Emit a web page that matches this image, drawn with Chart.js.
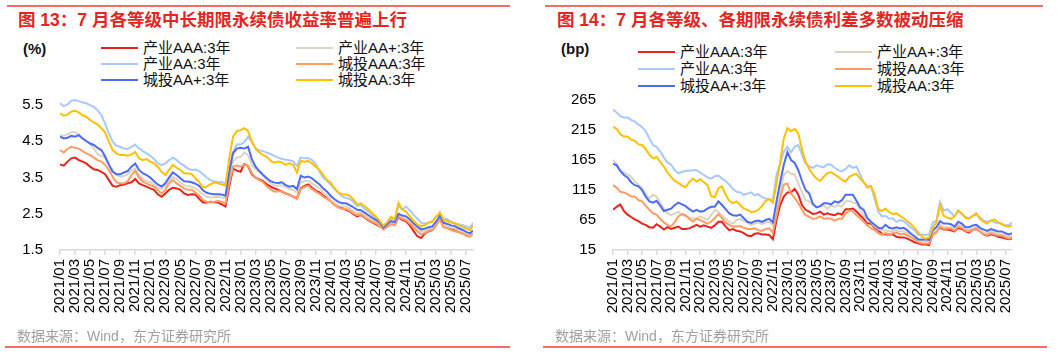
<!DOCTYPE html>
<html>
<head>
<meta charset="utf-8">
<script src="https://cdn.jsdelivr.net/npm/chart.js@4.4.0/dist/chart.umd.min.js"></script>
<style>
body { margin: 0; background: #fff; }
#page { position: relative; width: 1061px; height: 354px; overflow: hidden; font-family: "Liberation Sans", "Noto Sans CJK SC", sans-serif; }
.rule { position: absolute; height: 2px; background: #ef6e68; }
.title { position: absolute; top: 10px; font-size: 17.5px; font-weight: bold; color: #e3261f; line-height: 20px; white-space: nowrap; }
.source { position: absolute; top: 328px; font-size: 14px; color: #a0a0a0; line-height: 17px; white-space: nowrap; }
.unit { position: absolute; top: 41px; font-size: 15px; font-weight: bold; line-height: 16px; color: #111; }
.item { position: absolute; font-size: 15px; line-height: 16px; white-space: nowrap; color: #111; padding-left: 42px; }
.item i { position: absolute; left: 0; top: 7px; width: 37px; height: 2px; }
canvas { position: absolute; top: 80px; }
</style>
</head>
<body>
<div id="page">
  <div class="rule" style="left:7px;width:503px;top:5px"></div>
  <div class="rule" style="left:545px;width:498px;top:5px"></div>
  <div class="title" style="left:18px">图 13：7 月各等级中长期限永续债收益率普遍上行</div>
  <div class="title" style="left:557px">图 14：7 月各等级、各期限永续债利差多数被动压缩</div>
  <div class="unit" style="left:23px">(%)</div>
  <div class="unit" style="left:561px">(bp)</div>
  <div id="legendL"></div>
  <div id="legendR"></div>
  <canvas id="chartL" width="530" height="250" style="left:0"></canvas>
  <canvas id="chartR" width="531" height="250" style="left:530px"></canvas>
  <div class="source" style="left:17px">数据来源：Wind，东方证券研究所</div>
  <div class="source" style="left:555px">数据来源：Wind，东方证券研究所</div>
  <div class="rule" style="left:5px;width:505px;top:346px"></div>
  <div class="rule" style="left:543px;width:504px;top:346px"></div>
</div>
<script>
// semi-monthly observation dates
const dates = [];
for (let y = 2021; y <= 2025; y++) {
  for (let m = 1; m <= 12; m++) {
    if (y === 2025 && m > 7) break;
    const mm = String(m).padStart(2, '0');
    dates.push(y + '/' + mm + '/01', y + '/' + mm + '/16');
  }
}
dates.push('2025/07/28');

const tickLabels = ['2021/01','2021/03','2021/05','2021/07','2021/09','2021/11',
  '2022/01','2022/03','2022/05','2022/07','2022/09','2022/11',
  '2023/01','2023/03','2023/05','2023/07','2023/09','2023/11',
  '2024/01','2024/03','2024/05','2024/07','2024/09','2024/11',
  '2025/01','2025/03','2025/05','2025/07'];

const seriesNames = ['产业AAA:3年', '产业AA+:3年', '产业AA:3年', '城投AAA:3年', '城投AA+:3年', '城投AA:3年'];
const seriesColors = ['#e8231c', '#ddd3c1', '#a8c9ff', '#ff9d63', '#4b6cf6', '#ffc000'];

// left chart: yields (%)
const yieldIndAAA = [3.86,3.83,3.94,4.03,4.05,3.98,3.94,3.89,3.80,3.73,
  3.71,3.66,3.59,3.43,3.27,3.25,3.29,3.31,3.34,3.37,
  3.46,3.34,3.29,3.25,3.20,3.16,3.04,2.97,3.06,3.16,
  3.22,3.20,3.16,3.06,3.02,3.04,3.03,2.91,2.81,2.81,
  2.83,2.82,2.81,2.76,2.70,3.25,3.75,3.69,3.66,3.87,
  3.82,3.59,3.50,3.45,3.40,3.31,3.25,3.20,3.16,3.11,
  3.06,3.03,2.97,2.93,3.20,3.27,3.31,3.22,3.14,3.09,
  3.00,2.93,2.86,2.78,2.70,2.66,2.61,2.57,2.49,2.43,
  2.47,2.39,2.32,2.26,2.21,2.15,2.09,2.16,2.24,2.20,
  2.40,2.33,2.29,2.18,2.02,1.88,1.83,1.95,2.02,2.05,
  2.19,2.36,2.14,2.12,2.07,2.04,2.01,1.97,1.92,1.89,1.98];
const yieldIndAAp = [4.67,4.65,4.69,4.75,4.75,4.69,4.58,4.49,4.44,4.30,
  4.14,4.10,4.05,3.89,3.71,3.57,3.52,3.54,3.59,3.68,
  3.75,3.57,3.46,3.40,3.37,3.31,3.22,3.18,3.28,3.40,
  3.52,3.46,3.37,3.29,3.25,3.25,3.20,3.13,3.04,2.97,
  2.95,2.96,2.97,2.95,2.93,3.48,3.94,4.05,4.07,4.19,
  4.12,3.86,3.73,3.64,3.57,3.43,3.34,3.28,3.28,3.29,
  3.23,3.19,3.15,3.09,3.37,3.40,3.42,3.34,3.27,3.20,
  3.09,3.00,2.88,2.79,2.73,2.70,2.70,2.65,2.57,2.52,
  2.53,2.46,2.40,2.34,2.28,2.21,2.09,2.18,2.26,2.24,
  2.46,2.39,2.37,2.29,2.18,2.09,2.01,2.03,2.08,2.10,
  2.21,2.37,2.18,2.15,2.12,2.10,2.04,2.00,1.95,1.91,1.99];
const yieldIndAA = [5.55,5.47,5.52,5.62,5.64,5.61,5.57,5.55,5.50,5.45,
  5.36,5.22,4.99,4.72,4.49,4.38,4.35,4.30,4.29,4.35,
  4.41,4.30,4.23,4.17,4.10,4.01,3.89,3.84,3.89,3.98,
  4.05,3.98,3.89,3.83,3.75,3.71,3.72,3.68,3.59,3.50,
  3.43,3.40,3.37,3.38,3.33,3.75,4.21,4.42,4.41,4.48,
  4.63,4.49,4.30,4.25,4.23,4.19,4.15,4.10,4.05,4.01,
  3.99,3.98,3.95,3.82,4.05,4.03,4.04,3.98,3.88,3.66,
  3.49,3.41,3.29,3.18,3.08,2.98,2.94,2.91,2.83,2.71,
  2.74,2.63,2.56,2.46,2.37,2.27,2.16,2.27,2.37,2.33,
  2.72,2.62,2.70,2.60,2.47,2.37,2.25,2.23,2.26,2.30,
  2.42,2.50,2.36,2.35,2.28,2.24,2.21,2.19,2.15,2.11,2.25];
const yieldCityAAA = [4.26,4.19,4.29,4.35,4.32,4.30,4.23,4.17,4.12,4.05,
  3.98,3.94,3.85,3.71,3.52,3.37,3.34,3.34,3.40,3.57,
  3.68,3.50,3.39,3.34,3.29,3.25,3.16,3.06,3.16,3.34,
  3.43,3.34,3.27,3.20,3.16,3.16,3.09,3.00,2.88,2.83,
  2.81,2.83,2.85,2.83,2.79,3.34,3.80,3.83,3.80,3.85,
  3.83,3.62,3.50,3.43,3.37,3.25,3.17,3.11,3.12,3.12,
  3.06,3.02,2.97,2.91,3.18,3.24,3.27,3.18,3.11,3.05,
  2.97,2.91,2.83,2.74,2.67,2.63,2.63,2.59,2.51,2.46,
  2.48,2.40,2.34,2.28,2.24,2.16,2.06,2.14,2.21,2.18,
  2.42,2.36,2.32,2.23,2.12,2.02,1.93,1.97,2.03,2.05,
  2.17,2.34,2.13,2.10,2.05,2.02,1.99,1.95,1.89,1.86,1.95];
const yieldCityAAp = [4.63,4.58,4.60,4.65,4.63,4.67,4.58,4.51,4.44,4.40,
  4.32,4.26,4.08,3.85,3.66,3.59,3.59,3.64,3.68,3.80,
  3.89,3.71,3.62,3.57,3.50,3.40,3.31,3.25,3.34,3.50,
  3.64,3.57,3.48,3.40,3.39,3.37,3.33,3.27,3.15,3.08,
  3.05,3.04,3.04,3.03,3.00,3.66,4.17,4.30,4.32,4.30,
  4.35,4.01,3.80,3.68,3.57,3.48,3.40,3.36,3.35,3.37,
  3.29,3.25,3.27,3.18,3.55,3.50,3.53,3.48,3.39,3.31,
  3.20,3.11,2.99,2.90,2.83,2.79,2.79,2.74,2.68,2.61,
  2.60,2.53,2.46,2.39,2.33,2.26,2.12,2.22,2.30,2.27,
  2.50,2.45,2.43,2.35,2.24,2.15,2.07,2.09,2.13,2.15,
  2.28,2.44,2.25,2.22,2.18,2.16,2.10,2.06,2.00,1.96,2.04];
const yieldCityAA = [5.27,5.21,5.24,5.32,5.34,5.30,5.22,5.18,5.09,5.02,
  4.97,4.86,4.75,4.49,4.26,4.17,4.12,4.12,4.10,4.14,
  4.21,4.03,3.98,4.01,3.94,3.89,3.80,3.66,3.57,3.71,
  3.85,3.77,3.71,3.62,3.62,3.60,3.48,3.38,3.22,3.25,
  3.31,3.37,3.34,3.31,3.27,4.03,4.63,4.78,4.81,4.86,
  4.78,4.49,4.30,4.19,4.12,4.07,3.96,3.91,3.94,3.92,
  3.85,3.89,3.85,3.64,3.96,3.94,3.96,3.89,3.80,3.71,
  3.57,3.43,3.36,3.20,3.09,3.04,3.03,3.00,2.90,2.76,
  2.79,2.71,2.62,2.52,2.42,2.31,2.17,2.27,2.42,2.35,
  2.80,2.62,2.56,2.43,2.31,2.21,2.15,2.19,2.26,2.28,
  2.42,2.54,2.32,2.30,2.26,2.23,2.18,2.14,2.09,2.05,2.18];

// right chart: spreads (bp)
const spreadIndAAA = [82,87,91,80,74,70,66,63,59,57,
  53,52,58,54,49,53,50,52,54,50,
  50,51,54,57,54,56,54,52,56,62,
  62,54,48,50,47,46,43,39,38,42,
  43,41,41,40,33,65,90,104,111,111,
  117,107,90,82,79,75,76,79,74,76,
  74,73,76,74,83,83,84,79,73,67,
  59,59,52,48,42,41,41,41,37,36,
  36,34,31,28,26,24,24,23,43,47,
  52,49,49,48,46,52,50,46,44,49,
  50,46,41,39,41,40,37,36,34,33,34];
const spreadIndAAp = [165,159,148,144,141,137,130,124,118,108,
  101,107,104,94,84,76,73,76,79,73,
  71,69,67,68,71,68,65,73,82,79,
  72,67,62,59,65,67,63,61,57,59,
  61,58,61,62,56,84,112,140,147,142,
  141,126,111,98,96,90,87,87,89,84,
  89,87,90,87,96,97,94,93,82,73,
  67,61,54,50,47,48,46,47,48,46,
  46,43,38,36,31,29,30,29,44,48,
  58,53,53,53,50,57,55,49,48,51,
  53,48,44,43,46,44,41,41,39,37,37];
const spreadIndAA = [249,244,238,236,236,232,229,224,220,213,
  201,190,187,179,169,161,157,148,143,145,
  147,147,148,148,144,140,136,134,138,139,
  134,130,124,117,112,111,107,109,111,106,
  108,103,101,100,98,140,159,179,187,178,
  187,190,174,159,154,152,156,154,153,158,
  157,152,148,146,150,156,152,154,141,128,
  121,121,100,79,71,72,67,68,62,65,
  63,58,52,48,40,41,40,41,61,64,
  95,81,83,77,71,80,75,70,68,72,
  74,69,64,62,64,61,60,59,56,57,61];
const spreadCityAAA = [123,119,112,111,108,104,104,98,96,89,
  82,76,74,67,61,57,54,62,71,75,
  73,67,62,67,65,62,59,62,68,75,
  68,61,57,54,54,55,52,50,50,51,
  48,47,50,51,44,73,101,124,126,109,
  102,93,82,73,70,67,68,71,67,68,
  67,64,67,67,76,81,79,73,68,62,
  56,51,48,43,40,43,41,43,44,41,
  42,39,36,33,28,26,26,26,40,44,
  54,50,51,51,47,54,52,47,46,49,
  51,46,41,40,43,41,39,39,36,34,36];
const spreadCityAAp = [159,156,147,140,136,128,123,121,115,104,
  96,94,97,89,80,82,84,90,94,91,
  88,83,79,82,79,80,84,87,87,96,
  90,83,76,73,72,74,68,62,60,63,
  64,62,65,67,61,96,128,157,178,165,
  160,148,130,115,109,92,86,88,93,93,
  91,96,94,98,107,107,107,97,86,82,
  68,62,57,52,51,57,52,51,53,51,
  52,48,42,38,33,32,33,32,48,53,
  63,59,59,58,54,62,59,53,53,56,
  57,52,49,47,50,48,46,46,43,41,43];
const spreadCityAA = [220,217,208,204,204,199,197,191,190,183,
  174,168,170,162,154,144,137,130,127,122,
  120,128,134,129,133,128,123,105,103,118,
  121,107,97,93,96,90,84,82,78,79,
  82,88,97,100,94,126,162,201,218,213,
  217,209,183,162,150,141,134,130,137,143,
  145,141,137,132,129,137,140,142,134,128,
  119,122,107,83,80,84,78,75,76,72,
  68,63,58,52,44,37,34,36,52,61,
  90,72,69,67,71,81,76,68,67,72,
  76,67,62,59,64,66,61,58,55,54,56];

const yTicksL = [1.5, 2.5, 3.5, 4.5, 5.5];
const yTicksR = [15, 65, 115, 165, 215, 265];

// months since 2021/01/01
function monthPos(d) {
  const p = d.split('/').map(Number);
  return (p[0] - 2021) * 12 + (p[1] - 1) + ((p[2] || 1) - 1) / 30;
}
const xs = dates.map(monthPos);
const xTicks = tickLabels.map(t => monthPos(t + '/01'));

function buildLegend(id, cols, rows) {
  const box = document.getElementById(id);
  seriesNames.forEach((name, i) => {
    const el = document.createElement('div');
    el.className = 'item';
    el.style.left = cols[i % 2] + 'px';
    el.style.top = (rows[Math.floor(i / 2)] - 8) + 'px';
    el.innerHTML = '<i style="background:' + seriesColors[i] + '"></i>' + name;
    box.appendChild(el);
  });
}
buildLegend('legendL', [101, 296], [48, 64, 80]);
buildLegend('legendR', [638, 835], [52, 69, 86]);

function makeChart(id, seriesList, yMin, yMax, yTicks, yWidth, padding) {
  const ctx = document.getElementById(id).getContext('2d');
  return new Chart(ctx, {
    type: 'line',
    data: {
      datasets: seriesList.map((s, i) => ({
        label: seriesNames[i],
        data: s.map((v, j) => ({ x: xs[j], y: v })),
        borderColor: seriesColors[i],
        borderWidth: 2,
        pointRadius: 0,
        tension: 0,
        order: seriesList.length - i // later series on top
      }))
    },
    options: {
      responsive: false,
      animation: false,
      layout: { padding: padding },
      plugins: { legend: { display: false }, tooltip: { enabled: false } },
      scales: {
        x: {
          type: 'linear',
          min: 0,
          max: 54.9,
          afterBuildTicks: axis => { axis.ticks = xTicks.map(v => ({ value: v })); },
          afterFit: scale => { scale.height = 80; },
          ticks: {
            autoSkip: false,
            maxRotation: 90,
            minRotation: 90,
            padding: 4,
            color: '#000',
            font: { family: 'Liberation Sans', size: 15 },
            callback: v => tickLabels[xTicks.indexOf(v)]
          },
          grid: { drawOnChartArea: false, drawTicks: true, tickLength: 5, color: '#d9d9d9', lineWidth: 1.5 },
          border: { display: true, color: '#d9d9d9', width: 1.5 }
        },
        y: {
          min: yMin,
          max: yMax,
          afterBuildTicks: axis => { axis.ticks = yTicks.map(v => ({ value: v })); },
          afterFit: scale => {
            scale.width = yWidth;
            scale.paddingTop = 0;
            scale.paddingBottom = 0;
          },
          ticks: {
            padding: 17,
            color: '#000',
            font: { family: 'Liberation Sans', size: 15 }
          },
          grid: { display: false, drawTicks: false },
          border: { display: false }
        }
      }
    }
  });
}

makeChart('chartL',
  [yieldIndAAA, yieldIndAAp, yieldIndAA, yieldCityAAA, yieldCityAAp, yieldCityAA],
  1.5, 6.0, yTicksL, 60, { top: 7, right: 57, left: 0, bottom: 0 });
makeChart('chartR',
  [spreadIndAAA, spreadIndAAp, spreadIndAA, spreadCityAAA, spreadCityAAp, spreadCityAA],
  15, 265, yTicksR, 83, { top: 20, right: 49, left: 0, bottom: 0 });
</script>
</body>
</html>
